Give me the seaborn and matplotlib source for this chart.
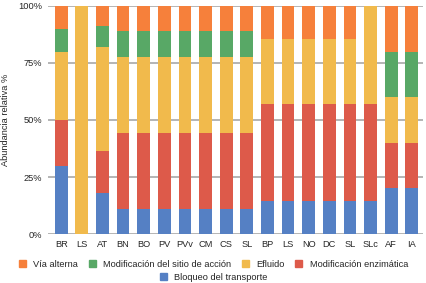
import pandas as pd
import numpy as np
import matplotlib
matplotlib.use("Agg")
import matplotlib.pyplot as plt
import seaborn as sns
from matplotlib.patches import Patch

# categorias (eje x), hay etiquetas repetidas (LS, SL)
etiquetas = ["BR", "LS", "AT", "BN", "BO", "PV", "PVv", "CM", "CS", "SL",
             "BP", "LS", "NO", "DC", "SL", "SLc", "AF", "IA"]

# abundancia relativa (%) por mecanismo, de abajo hacia arriba
bloqueo = [30, 0, 18.2, 11.1, 11.1, 11.1, 11.1, 11.1, 11.1, 11.1,
           14.3, 14.3, 14.3, 14.3, 14.3, 14.3, 20, 20]
enzimatica = [20, 0, 18.2, 33.3, 33.3, 33.3, 33.3, 33.3, 33.3, 33.3,
              42.8, 42.8, 42.8, 42.8, 42.8, 42.8, 20, 20]
efluido = [30, 100, 45.5, 33.3, 33.3, 33.3, 33.3, 33.3, 33.3, 33.3,
           28.6, 28.6, 28.6, 28.6, 28.6, 42.9, 20, 20]
sitio = [10, 0, 9.1, 11.1, 11.1, 11.1, 11.1, 11.1, 11.1, 11.1,
         0, 0, 0, 0, 0, 0, 20, 20]
alterna = [10, 0, 9.1, 11.2, 11.2, 11.2, 11.2, 11.2, 11.2, 11.2,
           14.3, 14.3, 14.3, 14.3, 14.3, 0, 20, 20]

series = [
    ("Bloqueo del transporte", bloqueo, "#5580C4"),
    ("Modificación enzimática", enzimatica, "#DD5A4A"),
    ("Efluido", efluido, "#F1BA4C"),
    ("Modificación del sitio de acción", sitio, "#58A866"),
    ("Vía alterna", alterna, "#F6803B"),
]

sns.set_style("white")
plt.rcParams["font.family"] = ["Liberation Sans", "DejaVu Sans"]
fs = 6.7

df = pd.DataFrame({"pos": range(len(etiquetas))})
acum = np.zeros(len(etiquetas))
for nombre, vals, col in series:
    acum = acum + np.array(vals)
    df[nombre] = acum.copy()

fig = plt.figure(figsize=(4.27, 2.83), dpi=100)
ax = fig.add_axes([0.112, 0.173, 0.879, 0.806])

# barras apiladas: se dibujan los acumulados de arriba hacia abajo
for nombre, vals, col in reversed(series):
    sns.barplot(data=df, x="pos", y=nombre, color=col, saturation=1,
                width=0.62, ax=ax, zorder=3, linewidth=0)

ax.set_xticks(range(len(etiquetas)))
ax.set_xticklabels(etiquetas, fontsize=fs)
ax.set_xlim(-0.65, len(etiquetas) - 0.45)
ax.set_ylim(0, 100)
ax.set_yticks([0, 25, 50, 75, 100])
ax.set_yticklabels(["0%", "25%", "50%", "75%", "100%"], fontsize=fs)
ax.set_xlabel("")
ax.set_ylabel("Abundancia relativa %", fontsize=fs, labelpad=6)
ax.yaxis.grid(True, color="#a0a0a0", linewidth=1.1, zorder=0)
ax.tick_params(axis="both", length=0, pad=4)
sns.despine(ax=ax, left=True, bottom=True, top=True, right=True)

leg1 = [Patch(color=c, label=n) for n, v, c in reversed(series[1:])]
fig.legend(handles=leg1, loc="center", bbox_to_anchor=(0.5, 0.067), ncol=4,
           frameon=False, fontsize=fs, handlelength=0.75, handleheight=0.75,
           columnspacing=1.15, handletextpad=0.8, borderpad=0)
fig.legend(handles=[Patch(color=series[0][2], label=series[0][0])], loc="center",
           bbox_to_anchor=(0.5, 0.021), frameon=False, fontsize=fs,
           handlelength=0.75, handleheight=0.75, handletextpad=0.8, borderpad=0)

fig.savefig("out.png", dpi=100)
